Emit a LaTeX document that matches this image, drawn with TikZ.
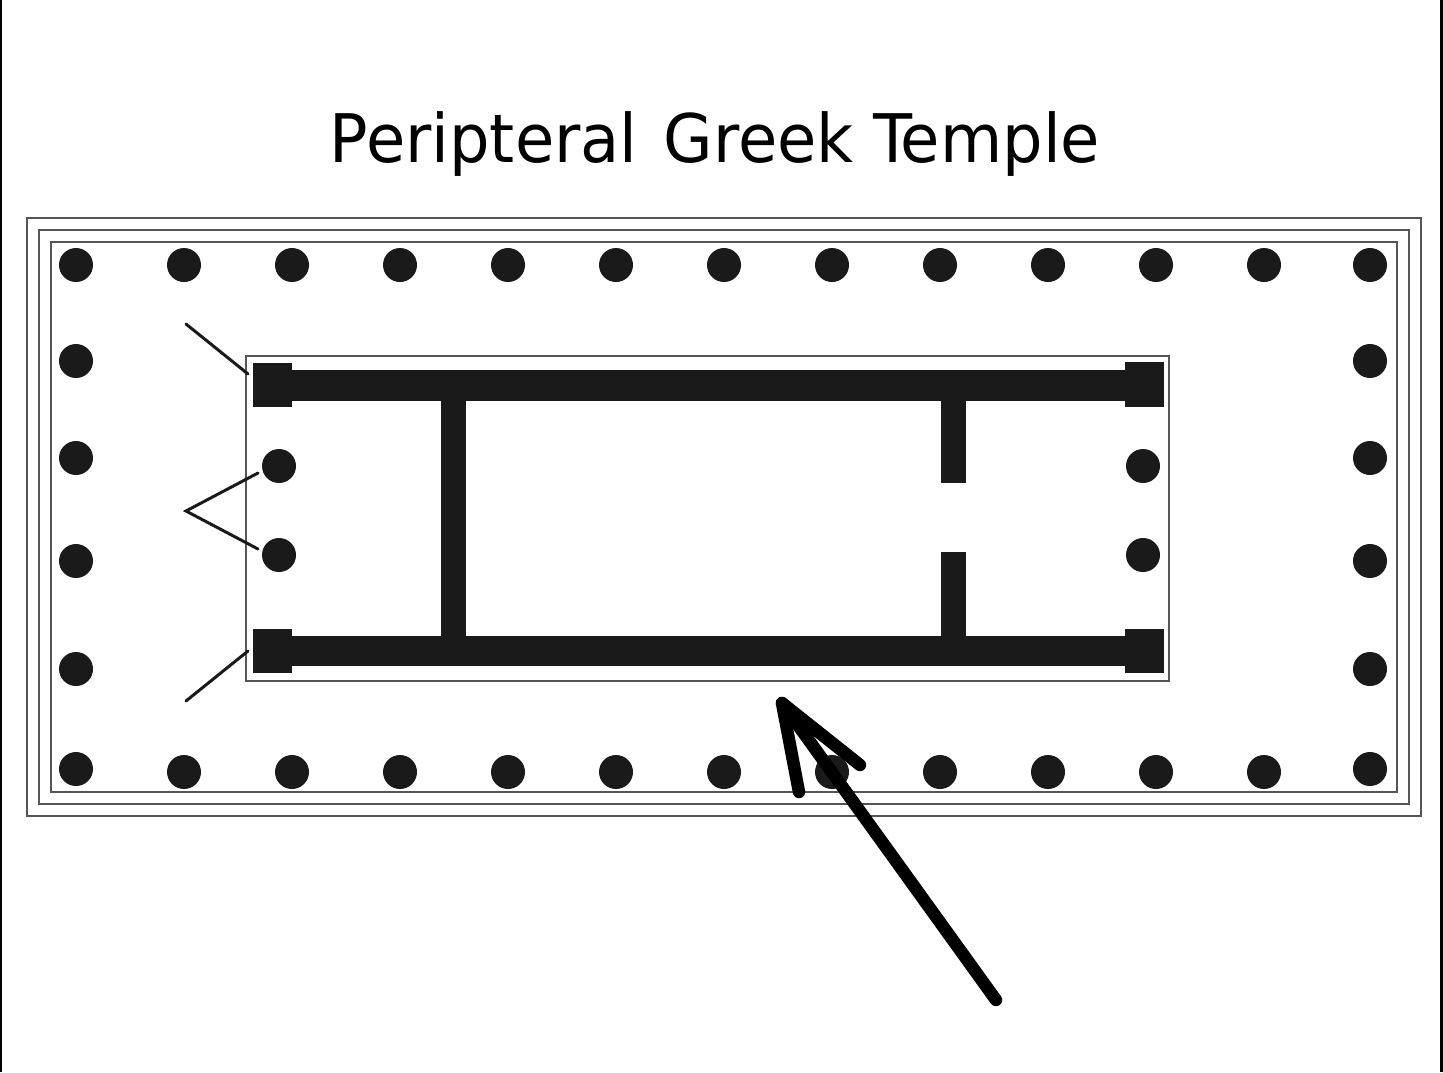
\documentclass[tikz,border=0pt]{standalone}
\usepackage{fontspec}
\setmainfont[FakeStretch=1.06]{DejaVu Sans Condensed}
\definecolor{inkblack}{HTML}{1A1A1A}
\definecolor{ruleline}{HTML}{555555}
\tikzset{
    column/.style={circle,fill=inkblack,inner sep=0pt,minimum size=34pt},
    ring/.style={draw=ruleline,line width=1.5pt},
    wall/.style={fill=inkblack},
    leader/.style={draw=inkblack,line width=3pt,line cap=round},
    bigarrow/.style={draw=black,line width=12.5pt,line cap=round,line join=round}
}
\begin{document}
\begin{tikzpicture}[x=1pt,y=-1pt]
    \useasboundingbox (0,0) rectangle (1443,1072);

    % Frame
    \draw[black,line width=2pt] (1,0) -- (1,1072);
    \draw[black,line width=2.5pt] (1441.5,0) -- (1441.5,1072);

    % Title
    \node[anchor=base] (title) at (715,162) {\fontsize{67pt}{72pt}\selectfont Peripteral\hspace{6pt} Greek Temple};

    % Steps
    \draw[ring] (27,218) rectangle (1421,816);
    \draw[ring] (39,230) rectangle (1409,804);
    \draw[ring] (51,242) rectangle (1397,792);
    \draw[ring] (246,356) rectangle (1169,681);

    % Walls
    \fill[wall] (292,370) rectangle (1125,401);
    \fill[wall] (292,636) rectangle (1125,666);
    \fill[wall] (253,363) rectangle (292,407);
    \fill[wall] (1125,362) rectangle (1164,407);
    \fill[wall] (253,629) rectangle (292,673);
    \fill[wall] (1125,629) rectangle (1164,673);
    \fill[wall] (441,401) rectangle (466,636);
    \fill[wall] (941,401) rectangle (966,483);
    \fill[wall] (941,552) rectangle (966,636);

    % Columns, top row
    \node[column] (T1) at (76,265) {};
    \node[column] (T2) at (184,265) {};
    \node[column] (T3) at (292,265) {};
    \node[column] (T4) at (400,265) {};
    \node[column] (T5) at (508,265) {};
    \node[column] (T6) at (616,265) {};
    \node[column] (T7) at (724,265) {};
    \node[column] (T8) at (832,265) {};
    \node[column] (T9) at (940,265) {};
    \node[column] (T10) at (1048,265) {};
    \node[column] (T11) at (1156,265) {};
    \node[column] (T12) at (1264,265) {};
    \node[column] (T13) at (1370,265) {};

    % Columns, bottom row
    \node[column] (B1) at (76,769) {};
    \node[column] (B2) at (184,772) {};
    \node[column] (B3) at (292,772) {};
    \node[column] (B4) at (400,772) {};
    \node[column] (B5) at (508,772) {};
    \node[column] (B6) at (616,772) {};
    \node[column] (B7) at (724,772) {};
    \node[column] (B8) at (832,772) {};
    \node[column] (B9) at (940,772) {};
    \node[column] (B10) at (1048,772) {};
    \node[column] (B11) at (1156,772) {};
    \node[column] (B12) at (1264,772) {};
    \node[column] (B13) at (1370,769) {};

    % Columns, sides
    \node[column] (L1) at (76,361) {};
    \node[column] (L2) at (76,458) {};
    \node[column] (L3) at (76,561) {};
    \node[column] (L4) at (76,669) {};
    \node[column] (R1) at (1370,361) {};
    \node[column] (R2) at (1370,458) {};
    \node[column] (R3) at (1370,561) {};
    \node[column] (R4) at (1370,669) {};

    % Columns, porch
    \node[column] (P1) at (279,466) {};
    \node[column] (P2) at (279,555) {};
    \node[column] (P3) at (1143,466) {};
    \node[column] (P4) at (1143,555) {};

    % Leader ends
    \coordinate (a) at (186,324);
    \coordinate (b) at (248,374);
    \coordinate (c) at (186,701);
    \coordinate (d) at (248,651);
    \coordinate (e) at (186,511);
    \coordinate (f) at (258,473);
    \coordinate (g) at (258,549);

    % Leaders
    \draw[leader] (a) -- (b);
    \draw[leader] (c) -- (d);
    \draw[leader] (f) -- (e) -- (g);

    % Arrow ends
    \coordinate (tail) at (996,1000);
    \coordinate (tip) at (782,703);
    \coordinate (barbA) at (860,765);
    \coordinate (barbB) at (799,792);

    % Arrow
    \draw[bigarrow] (tail) -- (tip);
    \draw[bigarrow] (barbA) -- (tip) -- (barbB);

\end{tikzpicture}
\end{document}
